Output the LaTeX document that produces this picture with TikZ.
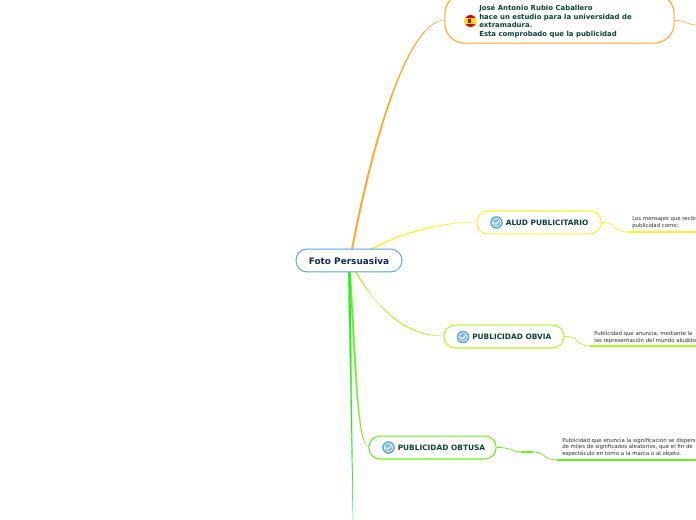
\documentclass[tikz,border=0pt]{standalone}
\usepackage{fontspec}
\setmainfont{DejaVu Sans}
\definecolor{cOrange}{HTML}{FFA726}
\definecolor{cYellow}{HTML}{FFF033}
\definecolor{cLime}{HTML}{B4F51E}
\definecolor{cGreen}{HTML}{66F022}
\definecolor{cPure}{HTML}{1EF01E}
\definecolor{cBlue}{HTML}{5AA5DC}
\definecolor{cNavy}{HTML}{102A55}
\definecolor{cDark}{HTML}{0B4436}
\definecolor{cLeaf}{HTML}{2E2E2E}
\tikzset{
  rootbox/.style={draw=cBlue,line width=.75pt,rounded corners=8.5pt,fill=white,minimum width=79.5pt,minimum height=17.2pt,inner sep=0pt},
  topicbox/.style={draw=#1,line width=.8pt,rounded corners=8.5pt,fill=white,minimum height=17.2pt,inner sep=0pt},
  bigbox/.style={draw=cOrange,line width=.8pt,rounded corners=15pt,fill=white,minimum width=172pt,minimum height=37pt,inner sep=0pt},
  roottext/.style={inner sep=0pt,font=\fontsize{6.7}{8}\selectfont\bfseries,text=cNavy},
  topictext/.style={anchor=west,inner sep=0pt,font=\fontsize{5.55}{6}\selectfont\bfseries,text=cDark},
  leaftext/.style={anchor=north west,inner sep=0pt,align=left,font=\fontsize{4.05}{5.1}\selectfont,text=cLeaf},
  bigtext/.style={anchor=north west,inner sep=0pt,align=left,font=\fontsize{5.2}{6.3}\selectfont\bfseries,text=cDark},
  link/.style={draw=#1,line width=.55pt},
  under/.style={draw=#1,line width=.85pt},
  taper/.style={fill=#1,draw=#1,line width=.15pt},
  tick/.style={draw=white,line width=.75pt,line cap=round,line join=round}
}
\usetikzlibrary{calc}
\newcommand{\checkicon}[2]{%
  \fill[cBlue] (#1,#2) circle (4.7pt);
  \fill[white] (#1,#2) circle (3.6pt);
  \fill[cBlue!75] (#1,#2) circle (3pt);
  \draw[tick] ($(#1,#2)+(-3,0)$) -- ($(#1,#2)+(-.8,2)$) -- ($(#1,#2)+(3,-2)$);
}
\begin{document}
\begin{tikzpicture}[x=.75pt,y=-.75pt]
\useasboundingbox (0,0) rectangle (696,520);
\clip (0,0) rectangle (696,520);
\fill[white] (0,0) rectangle (696,520);
% named anchor points
\coordinate (oa) at (351,250); \coordinate (ob) at (352.6,250); \coordinate (oe) at (445,20);
\coordinate (ya) at (369,250); \coordinate (yb) at (371,250); \coordinate (ye) at (477,222);
\coordinate (la) at (355,272); \coordinate (lb) at (356.6,272); \coordinate (le) at (444,336);
\coordinate (ga) at (349.4,272); \coordinate (gb) at (350.8,272); \coordinate (ge) at (369,447);
\coordinate (pa) at (348.2,272); \coordinate (pb) at (350.4,272); \coordinate (pe) at (353,520);
\coordinate (oq) at (696,25);
\coordinate (y1) at (628,232); \coordinate (yq) at (696,232);
\coordinate (l1) at (590,346); \coordinate (lq) at (696,346);
\coordinate (g1) at (521,452); \coordinate (g2) at (533,452); \coordinate (g3) at (557,460); \coordinate (gq) at (696,460);
% tapered branches
\fill[taper=cOrange] (oa) .. controls (375,125) and (410,20) .. (oe) .. controls (410.5,20.6) and (377,125) .. (ob) -- cycle;
\fill[taper=cYellow] (ya) .. controls (395,235) and (435,222) .. (ye) .. controls (435.5,222.6) and (397,236) .. (yb) -- cycle;
\fill[taper=cLime] (la) .. controls (385,320) and (415,336) .. (le) .. controls (415,336.6) and (384,321) .. (lb) -- cycle;
\fill[taper=cGreen] (ga) .. controls (355,380) and (358,447) .. (ge) .. controls (358.5,447.5) and (357,380) .. (gb) -- cycle;
\fill[taper=cPure] (pa) -- (pb) -- (pe) -- cycle;
% root
\node[rootbox] (root) at (349,260.5) {};
\node[roottext] (roottxt) at (349,261) {Foto Persuasiva};
% orange topic
\node[bigbox] (t1) at (559.5,18.5) {};
\begin{scope}
\clip (470.5,21) circle (4.6pt);
\fill[red!85!black] (464,14) rectangle (477,28);
\fill[yellow!85!orange] (464,18) rectangle (477,24);
\fill[red!70!black] (467.5,18.8) rectangle (470.5,23.2);
\end{scope}
\draw[cOrange!35!white,line width=.5pt] (470.5,21) circle (4.8pt);
\node[bigtext] (t1text) at (479,5) {José Antonio Rubio Caballero\\hace un estudio para la universidad de\\extramadura.\\Esta comprobado que la publicidad};
% topics
\node[topicbox=cYellow,minimum width=93.5pt] (t2) at (539,222.5) {};
\checkicon{496.5}{222.5}
\node[topictext] (t2text) at (505.5,222.5) {ALUD PUBLICITARIO};
\node[topicbox=cLime,minimum width=90pt] (t3) at (504,336.5) {};
\checkicon{463}{337}
\node[topictext] (t3text) at (472,337) {PUBLICIDAD OBVIA};
\node[topicbox=cGreen,minimum width=95.5pt] (t4) at (432.5,447.5) {};
\checkicon{388.5}{447.5}
\node[topictext] (t4text) at (397.5,447.5) {PUBLICIDAD OBTUSA};
% leaf connectors
\draw[link=cOrange!80] (t1.east) ++(0,2) .. controls (685,20) and (688,25) .. (oq);
\draw[link=cYellow] (t2.east) .. controls (618,222) and (612,232) .. (y1);
\draw[under=cYellow] (y1) -- (yq);
\draw[link=cLime] (t3.east) .. controls (580,336) and (575,346) .. (l1);
\draw[under=cLime] (l1) -- (lq);
\draw[link=cGreen] (t4.east) .. controls (510,447) and (512,452) .. (g1);
\draw[under=cGreen] (g1) -- (g2);
\draw[link=cGreen] (g2) .. controls (544,452) and (545,460) .. (g3);
\draw[under=cGreen] (g3) -- (gq);
% leaves
\node[leaftext] (n2) at (632,216.5) {Los mensajes que recib\\publicidad como:};
\node[leaftext] (n3) at (594,331) {Publicidad que anuncia, mediante la\\las representación del mundo aludido};
\node[leaftext] (n4) at (562,437.5) {Publicidad que enuncia la significación se dispers\\de miles de significados aleatorios, que el fin de\\espectáculo en torno a la marca o al objeto.};
\end{tikzpicture}
\end{document}
